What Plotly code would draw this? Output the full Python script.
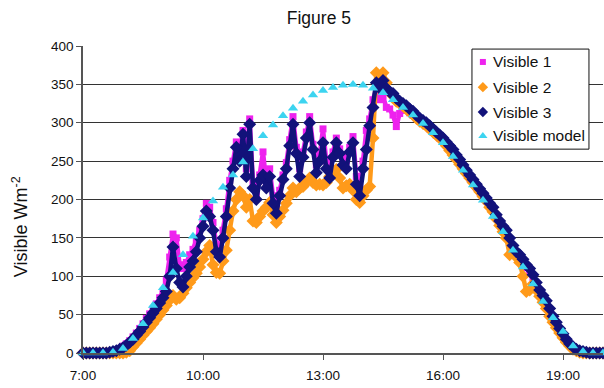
import pandas as pd
import plotly.graph_objects as go

# 5-minute measurement grid, 7:00 - 20:00
times = pd.date_range("2000-01-01 07:00", "2000-01-01 20:00", freq="5min")
# 15-minute model grid
model_times = pd.date_range("2000-01-01 07:00", "2000-01-01 20:00", freq="15min")

visible1 = [
    0, 0, 0, 0, 0, 0, 0, 0, 1, 2, 4, 6,
    9, 12, 16, 21, 26, 32, 38, 45, 51, 57, 64, 72,
    80, 95, 125, 155, 150, 115, 110, 118, 128, 135, 148, 160,
    175, 195, 190, 170, 142, 135, 160, 188, 225, 250, 275, 262,
    290, 240, 305, 222, 208, 232, 262, 222, 240, 205, 190, 212,
    232, 248, 278, 308, 268, 240, 262, 288, 308, 272, 245, 258,
    292, 250, 236, 262, 280, 266, 255, 250, 268, 282, 230, 215,
    250, 290, 305, 330, 345, 330, 335, 320, 318, 310, 295, 312,
    318, 316, 313, 310, 306, 302, 299, 296, 292, 288, 284, 280,
    276, 271, 266, 261, 254, 248, 241, 234, 228, 222, 216, 210,
    204, 198, 191, 186, 176, 168, 161, 156, 146, 136, 128, 124,
    118, 111, 106, 98, 88, 79, 72, 65, 55, 46, 38, 30,
    23, 16, 11, 7, 4, 3, 2, 1, 0, 0, 0, 0,
    0,
]

visible2 = [
    0, 0, 0, 0, 0, 0, 0, 0, 0, 0, 0, 0,
    0, 1, 3, 8, 13, 18, 23, 28, 33, 38, 44, 50,
    56, 62, 69, 75, 70, 72, 78, 85, 92, 98, 104, 112,
    122, 132, 140, 115, 105, 104, 120, 134, 160, 185, 200, 210,
    205, 190, 200, 172, 170, 178, 185, 190, 196, 180, 170, 178,
    186, 195, 205, 215, 210, 215, 217, 222, 228, 222, 219, 220,
    219, 222, 230, 235, 239, 228, 215, 218, 220, 212, 200, 196,
    205, 212, 217, 280, 365, 350, 365, 352, 340, 335, 328, 325,
    322, 318, 314, 311, 306, 302, 299, 296, 292, 288, 284, 280,
    276, 270, 264, 258, 252, 246, 240, 234, 228, 222, 216, 210,
    204, 198, 190, 184, 175, 166, 158, 150, 128, 132, 125, 118,
    100, 80, 82, 90, 82, 74, 66, 58, 48, 40, 33, 26,
    20, 14, 9, 5, 3, 1, 0, 0, 0, 0, 0, 0,
    0,
]

visible3 = [
    0, 0, 0, 0, 0, 0, 0, 0, 1, 2, 3, 5,
    7, 10, 14, 18, 23, 28, 34, 40, 46, 52, 58, 65,
    72, 80, 100, 138, 110, 92, 86, 100, 112, 120, 132, 150,
    165, 185, 178, 160, 132, 125, 150, 178, 215, 240, 268, 250,
    285, 230, 298, 215, 200, 225, 232, 215, 230, 195, 182, 205,
    226, 240, 270, 298, 260, 230, 255, 280, 300, 265, 235, 250,
    274, 240, 228, 255, 274, 260, 245, 240, 262, 274, 220, 205,
    240, 265, 296, 320, 352, 345, 355, 345, 340, 338, 332, 328,
    325, 322, 318, 315, 310, 306, 303, 300, 296, 292, 288, 284,
    280, 275, 270, 265, 258, 252, 245, 238, 232, 226, 220, 214,
    208, 202, 195, 190, 180, 172, 165, 160, 150, 140, 132, 128,
    122, 115, 110, 102, 92, 82, 75, 68, 58, 48, 40, 32,
    25, 18, 12, 8, 5, 3, 2, 1, 0, 0, 0, 0,
    0,
]

visible_model = [
    0, 0, 0, 1,
    6, 19, 38, 62,
    85, 105, 128, 152,
    176, 198, 216, 232,
    249, 266, 283, 297,
    309, 319, 328, 336,
    342, 346, 349, 350,
    349, 345, 339, 330,
    320, 310, 299, 287,
    274, 256, 238, 219,
    199, 178, 158, 134,
    112, 90, 67, 46,
    28, 9, 2, 0,
    0,
]

# name, values, time grid, symbol, colour, data marker size, legend marker size
series = [
    ("Visible 1", visible1, times, "square", "#EE22EE", 7, 6),
    ("Visible 2", visible2, times, "diamond", "#FF9A1A", 10, 8),
    ("Visible 3", visible3, times, "diamond", "#12127A", 10, 8),
    ("Visible model", visible_model, model_times, "triangle-up", "#3CD4F0", 9, 8),
]

fig = go.Figure()
for name, vals, t, sym, col, size, _ in series:
    if name != "Visible model":
        fig.add_trace(go.Scatter(x=t, y=vals, mode="lines", line=dict(color=col, width=4.5),
                                 showlegend=False, hoverinfo="skip", cliponaxis=False))
    fig.add_trace(go.Scatter(x=t, y=vals, mode="markers", name=name, showlegend=False,
                             marker=dict(symbol=sym, color=col, size=size),
                             cliponaxis=False))

# ---- custom legend (positions as fractions of the plot area) ----
leg_x0, leg_x1, leg_y0, leg_y1 = 0.748, 0.973, 0.664, 0.990
leg_key_x, leg_text_x = 0.769, 0.785
leg_rows = [0.948, 0.866, 0.785, 0.707]

fig.add_trace(go.Scatter(x=[leg_x0, leg_x1, leg_x1, leg_x0, leg_x0],
                         y=[leg_y0, leg_y0, leg_y1, leg_y1, leg_y0],
                         xaxis="x2", yaxis="y2", mode="lines", fill="toself",
                         fillcolor="white", line=dict(color="#111", width=1),
                         showlegend=False, hoverinfo="skip"))

annotations = []
for (name, _, _, sym, col, _, lsize), ry in zip(series, leg_rows):
    fig.add_trace(go.Scatter(x=[leg_key_x], y=[ry], xaxis="x2", yaxis="y2", mode="markers",
                             marker=dict(symbol=sym, color=col, size=lsize),
                             showlegend=False, hoverinfo="skip", cliponaxis=False))
    annotations.append(dict(text=name, x=leg_text_x, y=ry, xref="paper", yref="paper",
                            xanchor="left", yanchor="middle", showarrow=False,
                            font=dict(size=15.5, color="#111")))

annotations.append(dict(text="Visible Wm<sup>-2</sup>", textangle=-90,
                        x=-0.121, y=0.41, xref="paper", yref="paper",
                        xanchor="center", yanchor="middle",
                        showarrow=False, font=dict(size=18, color="#111")))

fig.update_layout(
    width=604, height=388,
    margin=dict(l=83, r=1, t=46, b=35, autoexpand=False),
    plot_bgcolor="white", paper_bgcolor="white",
    font=dict(family="Liberation Sans, Arial, sans-serif", color="#111"),
    showlegend=False,
    title=dict(text="Figure 5", x=0.528, xanchor="center", y=0.955, yanchor="middle",
               font=dict(size=17.5, color="#111")),
    xaxis=dict(type="date",
               range=["2000-01-01 07:00", "2000-01-01 20:00"],
               tick0="2000-01-01 07:00", dtick=3 * 3600 * 1000,
               tickformat="%-H:%M", ticks="outside", ticklen=5, tickcolor="#555",
               ticklabelstandoff=4,
               showline=True, linecolor="#555", linewidth=1.5,
               showgrid=False, zeroline=False, tickfont=dict(size=13.5)),
    yaxis=dict(range=[0, 400], dtick=50, ticks="outside", ticklen=5, tickcolor="#555",
               showline=True, linecolor="#555", linewidth=1.5,
               showgrid=True, gridcolor="#333", gridwidth=1,
               zeroline=False, tickfont=dict(size=13.5)),
    xaxis2=dict(overlaying="x", range=[0, 1], visible=False, fixedrange=True),
    yaxis2=dict(overlaying="y", range=[0, 1], visible=False, fixedrange=True),
    annotations=annotations,
)

fig.write_html("out.html", config={"displayModeBar": False},
               post_script="document.body.style.margin='0';")
